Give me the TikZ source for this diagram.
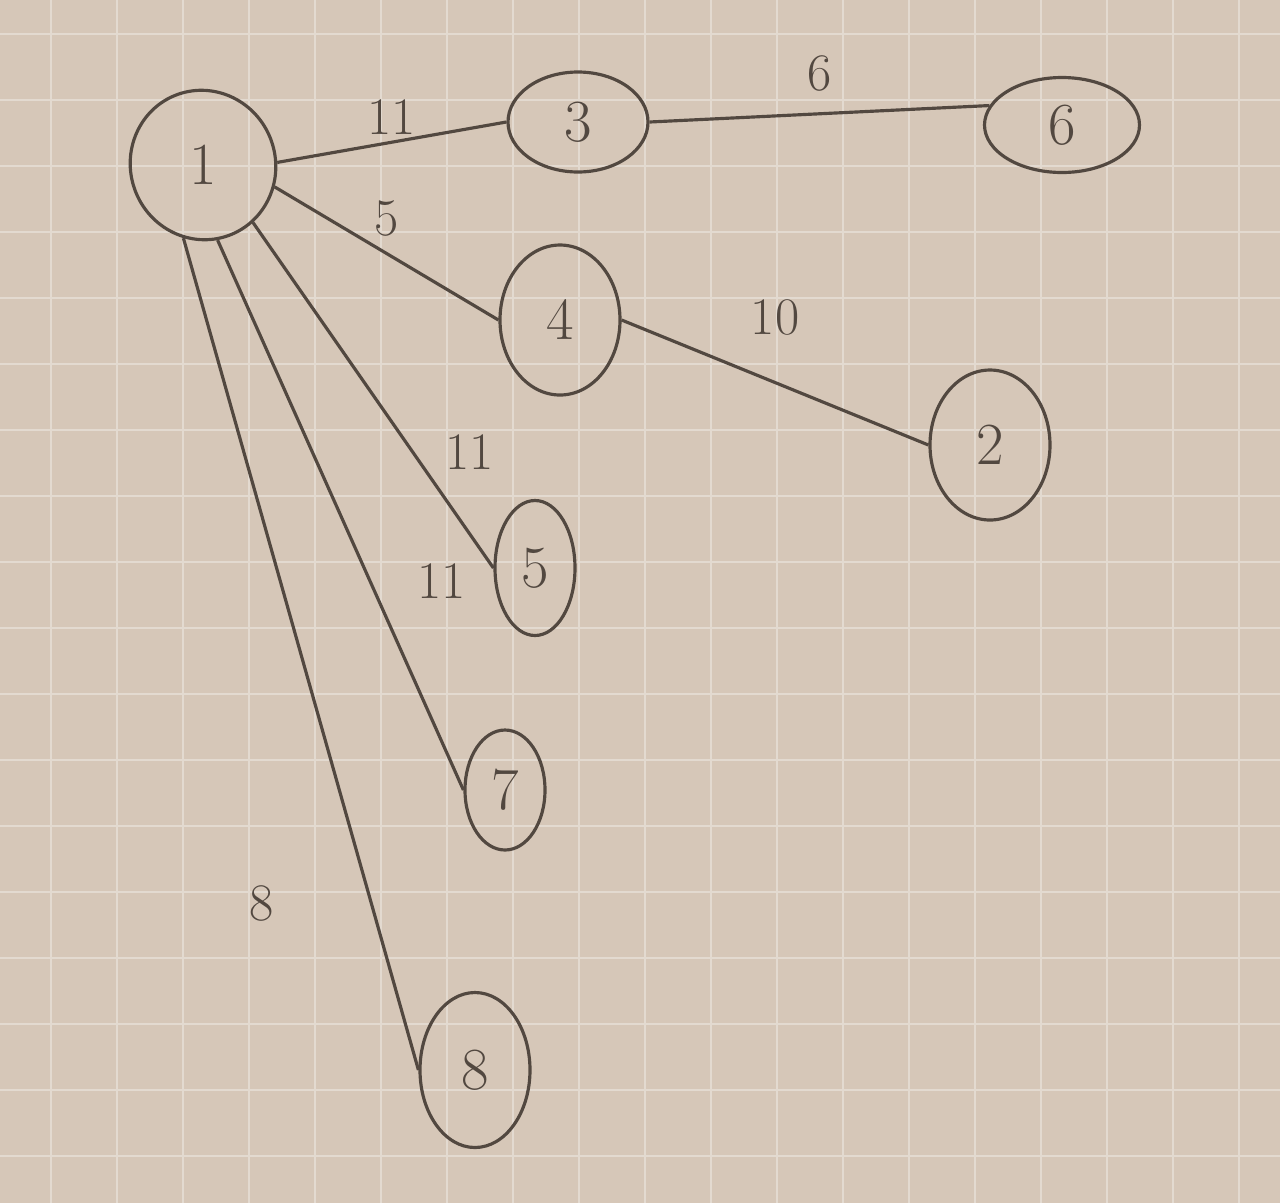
\documentclass[tikz,border=0pt]{standalone}
\usetikzlibrary{shapes.geometric}
\definecolor{paper}{RGB}{214,199,184}
\definecolor{gridline}{RGB}{227,218,208}
\definecolor{ink}{RGB}{82,72,64}
\tikzset{
  vertex/.style={draw=ink, ellipse, line width=1.8pt, inner sep=0pt, text=ink, font=\fontsize{34}{34}\selectfont},
  edge/.style={draw=ink, line width=1.8pt},
  weight/.style={text=ink, font=\fontsize{30}{30}\selectfont}
}
\begin{document}
\begin{tikzpicture}
        % paper with squares
        \fill[paper] (0,0) rectangle (25.6,-24.06);
        \useasboundingbox (0,0) rectangle (25.6,-24.06);
        \foreach \gx in {0,...,18} \draw[gridline, line width=1.2pt] (1.02+1.32*\gx,0) -- (1.02+1.32*\gx,-24.06);
        \foreach \gy in {0,...,17} \draw[gridline, line width=1.2pt] (0,-0.68-1.32*\gy) -- (25.6,-0.68-1.32*\gy);

        \node (n1) [vertex, minimum width=2.9cm, minimum height=3cm, rotate=20] at (4.06,-3.3) {\rotatebox{-20}{1}};
        \node (n3) [vertex, minimum width=2.8cm, minimum height=2cm] at (11.56,-2.44) {3};
        \node (n6) [vertex, minimum width=3.1cm, minimum height=1.9cm] at (21.24,-2.5) {6};
        \node (n4) [vertex, minimum width=2.4cm, minimum height=3cm] at (11.2,-6.4) {4};
        \node (n2) [vertex, minimum width=2.4cm, minimum height=3cm] at (19.8,-8.9) {2};
        \node (n5) [vertex, minimum width=1.6cm, minimum height=2.7cm] at (10.7,-11.36) {5};
        \node (n7) [vertex, minimum width=1.6cm, minimum height=2.4cm] at (10.1,-15.8) {7};
        \node (n8) [vertex, minimum width=2.2cm, minimum height=3.1cm] at (9.5,-21.4) {8};

        \draw[edge] (n1.-18) -- (n3.west) node[midway, above, weight] {11};
        \draw[edge] (n3.east) -- (n6.165) node[midway, above=3mm, weight] {6};
        \draw[edge] (n1.-37) -- (n4.west) node[midway, above=2mm, weight] {5};
        \draw[edge] (n4.east) -- (n2.west) node[midway, above=8mm, weight] {10};
        \draw[edge] (n1.-69) -- (n5.west) node[pos=0.75, above right=1mm, weight] {11};
        \draw[edge] (n1.-99) -- (n7.west) node[pos=0.62, right=8mm, weight] {11};
        \draw[edge] (n1.-125) -- (n8.west) node[pos=0.8, left=1.8cm, weight] {8};
\end{tikzpicture}
\end{document}
